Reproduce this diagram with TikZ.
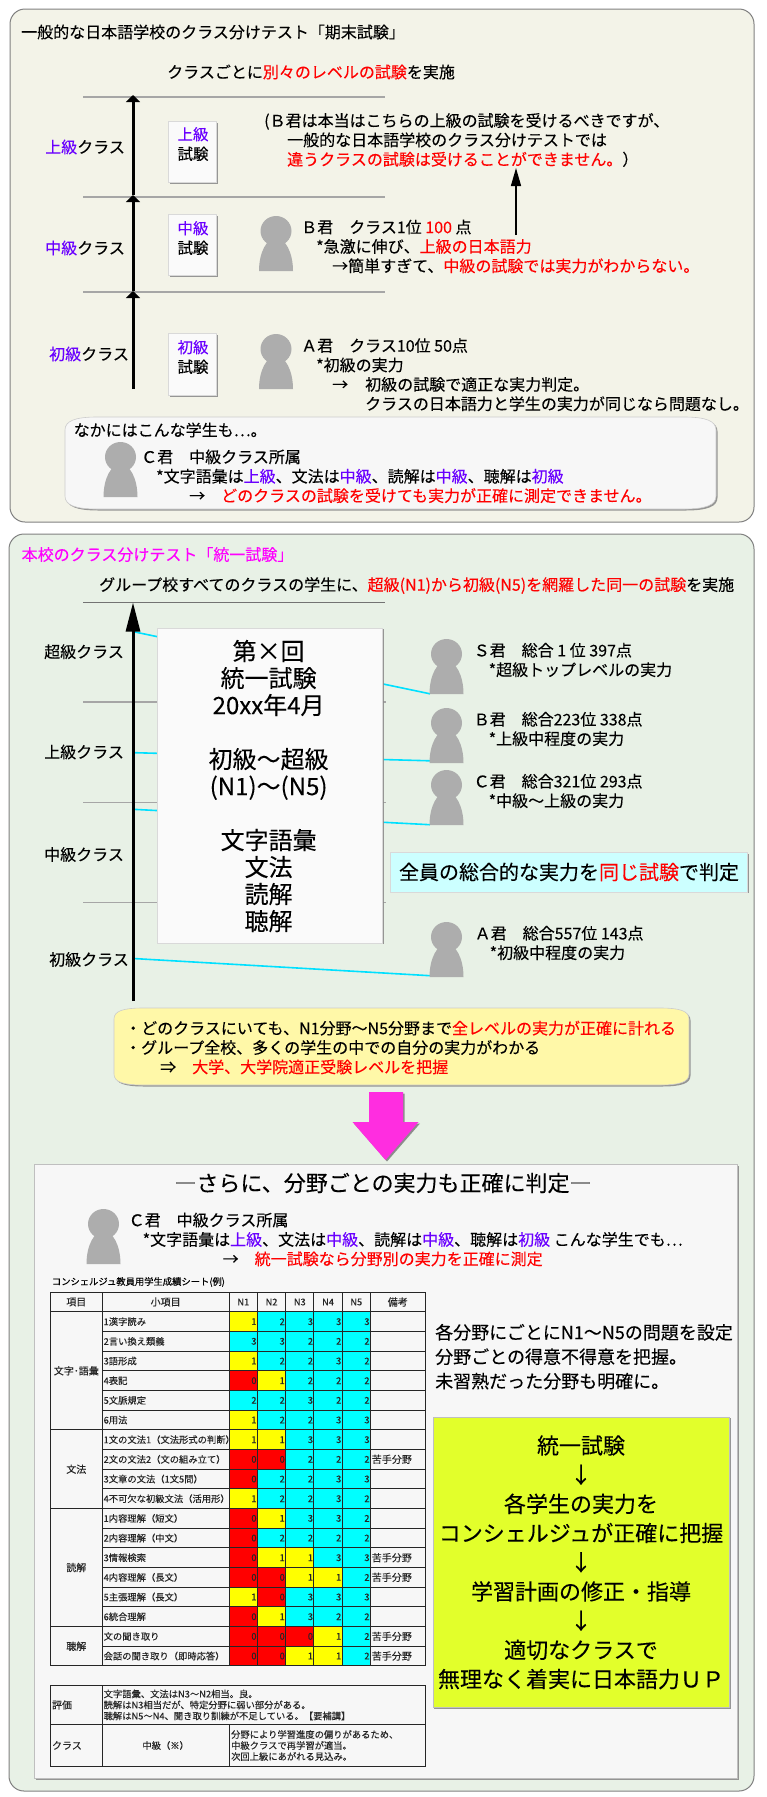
\documentclass[tikz,border=0pt]{standalone}
\usepackage{fontspec}
\setmainfont{Noto Sans CJK JP}[FakeBold=0.12]
\usetikzlibrary{arrows.meta}
\usetikzlibrary{shadows}

\definecolor{panelA}{HTML}{F3F3E8}
\definecolor{panelB}{HTML}{E8F1E6}
\definecolor{lvpurple}{HTML}{6A00FF}
\definecolor{hlred}{HTML}{FF0000}
\definecolor{titlepink}{HTML}{FF00FF}
\definecolor{cablecol}{HTML}{00E0FF}
\definecolor{personcol}{HTML}{ADADAD}
\definecolor{scorered}{HTML}{FF0000}
\definecolor{scoreyel}{HTML}{FFFF00}
\definecolor{scorecya}{HTML}{00FFFF}
\definecolor{samecol}{HTML}{CCFFFF}
\definecolor{meritcol}{HTML}{FFF8A8}
\definecolor{flowcol}{HTML}{E2FF2B}
\definecolor{arrowpink}{HTML}{FF2DE0}

\newcommand{\hl}[1]{\textcolor{hlred}{#1}}
\newcommand{\lv}[1]{\textcolor{lvpurple}{#1}}
\newcommand{\fs}[2]{\fontsize{#1}{#2}\selectfont}

\begin{document}
\begin{tikzpicture}[x=1pt,y=-1pt]
  \tikzset{panel/.style = {draw=black!50,line width=1pt,rounded corners=15pt}}
  \tikzset{shade/.style = {drop shadow={shadow xshift=1.5pt,shadow yshift=-1.5pt,fill=black!45,opacity=.9}}}
  \tikzset{txt/.style = {anchor=west,inner sep=0pt,align=left,font=\fs{16}{19.4}}}
  \tikzset{mid/.style = {anchor=center,inner sep=0pt,align=center,font=\fs{16}{19.4}}}
  \tikzset{rung/.style = {draw=black!35,line width=1.6pt}}
  \tikzset{climb/.style = {draw=black,line width=3pt,-{Triangle[length=7pt,width=14pt]}}}
  \tikzset{cable/.style = {draw=cablecol,line width=1.6pt}}
  \tikzset{exambox/.style = {anchor=north west,fill=black!2,draw=black!15,line width=.5pt,shade,minimum width=48pt,inner sep=0pt}}
  \tikzset{softbox/.style = {draw=black!20,line width=.6pt,shade}}
  \tikzset{cell/.style = {anchor=north west,draw=black!85,line width=.9pt,inner sep=0pt,minimum height=19.67pt,font=\fs{9.3}{11},text=black!85}}
  \tikzset{score0/.style = {fill=scorered}}
  \tikzset{score1/.style = {fill=scoreyel}}
  \tikzset{score2/.style = {fill=scorecya}}
  \tikzset{score3/.style = {fill=scorecya}}
  \tikzset{person/.pic = {
    \fill[personcol] (0,15) ellipse [x radius=15.5,y radius=15];
    \fill[personcol] (-17,55) .. controls (-17,36) and (-9,22) .. (0,22) .. controls (9,22) and (17,36) .. (17,55) -- cycle;
  }}

  \useasboundingbox (0,0) rectangle (767,1797);

  % upper panel
  \draw[panel,fill=panelA] (10,9) rectangle (754,522);
  \node[txt] (titleA) at (21,32) {一般的な日本語学校のクラス分けテスト「期末試験」};
  \node[txt] (leadA) at (167,72) {クラスごとに\hl{別々のレベルの試験}を実施};

  \coordinate (lv0) at (133,389);
  \coordinate (lv1) at (133,291);
  \coordinate (lv2) at (133,195);
  \coordinate (lv3) at (133,95);
  \foreach \yy in {97,197,292}
    \draw[rung] (83,\yy) -- (385,\yy);
  \foreach \from/\to in {lv0/lv1, lv1/lv2, lv2/lv3}
    \draw[climb] (\from) -- (\to);

  \node[txt] (classJo) at (45,147) {\lv{上級}クラス};
  \node[txt] (classCh) at (45,248) {\lv{中級}クラス};
  \node[txt] (classSh) at (49,354) {\lv{初級}クラス};

  \node[exambox,minimum height=61pt] (boxJo) at (168,121) {};
  \node[exambox,minimum height=61pt] (boxCh) at (168,214) {};
  \node[exambox,minimum height=62pt] (boxSh) at (168,333) {};
  \node[mid,font=\fs{15.5}{19.6}] (examJo) at (193,144) {\lv{上級}\\試験};
  \node[mid,font=\fs{15.5}{19.6}] (examCh) at (193,238) {\lv{中級}\\試験};
  \node[mid,font=\fs{15.5}{19.6}] (examSh) at (193,357) {\lv{初級}\\試験};

  \node[txt] (noteB) at (264,140) {(Ｂ君は本当はこちらの上級の試験を受けるべきですが、\\
    \hspace*{23pt}一般的な日本語学校のクラス分けテストでは\\
    \hspace*{23pt}\hl{違うクラスの試験は受けることができません。}）};
  \coordinate (upB) at (516,235);
  \coordinate (upNote) at (516,168);
  \draw[draw=black,line width=1.4pt,-{Triangle[length=18pt,width=10pt]}] (upB) -- (upNote);

  \pic at (276,216) {person};
  \node[txt] (studentB) at (301,246.5) {Ｂ君　クラス1位 \hl{100} 点\\
    \hspace*{15pt}*急激に伸び、\hl{上級の日本語力}\\
    \hspace*{31pt}→簡単すぎて、\hl{中級の試験では実力がわからない。}};
  \pic at (276,334) {person};
  \node[txt] (studentA) at (301,374.7) {Ａ君　クラス10位 50点\\
    \hspace*{15pt}*初級の実力\\
    \hspace*{31pt}→\hspace*{17pt}初級の試験で適正な実力判定。\\
    \hspace*{64pt}クラスの日本語力と学生の実力が同じなら問題なし。};

  \path[softbox,fill=black!3] (65,430) .. controls (65,421) and (75,417) .. (97,417) -- (684,417)
    .. controls (706,417) and (716,421) .. (716,430) -- (716,496)
    .. controls (716,505) and (706,509) .. (684,509) -- (97,509)
    .. controls (75,509) and (65,505) .. (65,496) -- cycle;
  \node[txt] (rareNote) at (73.5,430) {なかにはこんな学生も⋯。};
  \pic at (120.5,442) {person};
  \node[txt] (studentC) at (141,476.3) {Ｃ君　中級クラス所属\\
    \hspace*{15pt}*文字語彙は\lv{上級}、文法は\lv{中級}、読解は\lv{中級}、聴解は\lv{初級}\\
    \hspace*{48pt}→\hspace*{16pt}\hl{どのクラスの試験を受けても実力が正確に測定できません。}};

  % lower panel
  \draw[panel,fill=panelB] (9,534) rectangle (754,1791);
  \node[txt,text=titlepink] (titleB) at (21.5,554.5) {本校のクラス分けテスト「統一試験」};
  \node[txt] (leadB) at (99,585.5) {グループ校すべてのクラスの学生に、\hl{超級(N1)から初級(N5)を網羅した同一の試験}を実施};

  \draw[rung,draw=black!55,line width=1pt] (83,602.5) -- (385,602.5);
  \foreach \yy in {702,802.5,902.5}
    \draw[rung] (83,\yy) -- (386,\yy);

  \coordinate (fromS) at (135,632);
  \coordinate (fromB) at (135,752.7);
  \coordinate (fromC) at (135,809.4);
  \coordinate (fromA) at (135,958.6);
  \coordinate (toS) at (430,693.8);
  \coordinate (toB) at (430,760.8);
  \coordinate (toC) at (430,824.7);
  \coordinate (toA) at (432,975.8);
  \foreach \from/\to in {fromS/toS, fromB/toB, fromC/toC, fromA/toA}
    \draw[cable] (\from) -- (\to);

  \coordinate (axisLow) at (133,1001);
  \coordinate (axisTop) at (133,602.5);
  \draw[draw=black,line width=3pt,-{Triangle[length=29pt,width=14pt]}] (axisLow) -- (axisTop);

  \node[anchor=north west,inner sep=0pt,fill=black!2,draw=black!15,line width=.5pt,shade,minimum width=225pt,minimum height=315pt] (examAll) at (157,627.5) {};
  \node[mid,font=\fs{24}{27}] (examText) at (268.6,786) {第×回\\統一試験\\20xx年4月\\[27pt]初級～超級\\(N1)～(N5)\\[27pt]文字語彙\\文法\\読解\\聴解};

  \node[txt] (classTop) at (44,651.7) {超級クラス};
  \node[txt] (classJoB) at (44,752) {上級クラス};
  \node[txt] (classChB) at (44,854.5) {中級クラス};
  \node[txt] (classShB) at (49,959.4) {初級クラス};

  \pic at (446.5,639) {person};
  \pic at (446.5,708) {person};
  \pic at (446.5,770) {person};
  \pic at (446.5,922) {person};
  \node[txt] (rankS) at (473.5,660) {Ｓ君　総合 1 位 397点\\\hspace*{15pt}*超級トップレベルの実力};
  \node[txt] (rankB) at (473.5,729) {Ｂ君　総合223位 338点\\\hspace*{15pt}*上級中程度の実力};
  \node[txt] (rankC) at (473.5,791) {Ｃ君　総合321位 293点\\\hspace*{15pt}*中級～上級の実力};
  \node[txt] (rankA) at (474.5,943) {Ａ君　総合557位 143点\\\hspace*{15pt}*初級中程度の実力};

  \node[anchor=center,inner sep=0pt,fill=samecol,draw=black!15,line width=.5pt,shade,minimum width=357pt,minimum height=39.5pt,font=\fs{20}{24}] (sameTest) at (569,872) {全員の総合的な実力を\hl{同じ試験}で判定};

  \path[softbox,fill=meritcol] (114,1019) .. controls (114,1011) and (123,1008) .. (143,1008) -- (660,1008)
    .. controls (680,1008) and (689,1011) .. (689,1019) -- (689,1074)
    .. controls (689,1082) and (680,1085) .. (660,1085) -- (143,1085)
    .. controls (123,1085) and (114,1082) .. (114,1074) -- cycle;
  \node[txt] (meritText) at (125,1047.5) {・どのクラスにいても、N1分野～N5分野まで\hl{全レベルの実力が正確に計れる}\\
    ・グループ全校、多くの学生の中での自分の実力がわかる\\
    \hspace*{35pt}⇒\hspace*{16pt}\hl{大学、大学院適正受験レベルを把握}};

  \fill[fill=black!45] (370.5,1093.5) -- (404.5,1093.5) -- (404.5,1123.5) -- (420,1123.5) -- (387,1161.5) -- (354,1123.5) -- (370.5,1123.5) -- cycle;
  \fill[fill=arrowpink] (369,1092) -- (403,1092) -- (403,1122) -- (418.5,1122) -- (385.5,1160) -- (352.5,1122) -- (369,1122) -- cycle;

  % sheet panel
  \draw[fill=black!3,draw=black!25,line width=.6pt,shade] (34,1164) rectangle (737,1778);
  \node[mid,font=\fs{22}{26}] (sheetTitle) at (383,1183) {―さらに、分野ごとの実力も正確に判定―};
  \pic at (103.5,1209) {person};
  \node[txt] (studentCC) at (128.5,1239.5) {Ｃ君　中級クラス所属\\
    \hspace*{14pt}*文字語彙は\lv{上級}、文法は\lv{中級}、読解は\lv{中級}、聴解は\lv{初級} こんな学生でも⋯\\
    \hspace*{94pt}→\hspace*{16pt}\hl{統一試験なら分野別の実力を正確に測定}};

  \node[txt,font=\fs{9.3}{11}] (sheetCap) at (51.7,1282) {コンシェルジュ教員用学生成績シート(例)};

  % table head
  \node[cell,minimum width=51.7pt,font=\fs{10}{11}] (headItem) at (50,1291.7) {項目};
  \node[cell,minimum width=127pt,font=\fs{10}{11}] (headSub) at (101.7,1291.7) {小項目};
  \foreach \cl in {1,...,5}
    \node[cell,minimum width=28.25pt] (headN\cl) at ({228.7+28.25*(\cl-1)},1291.7) {N\cl};
  \node[cell,minimum width=54.7pt,font=\fs{10}{11}] (headMemo) at (370,1291.7) {備考};

  % table body
  \foreach \sub/\vals/\memo [count=\rw] in {
    1漢字読み/{1,2,3,3,3}/{},
    2言い換え類義/{3,3,2,2,2}/{},
    3語形成/{1,2,2,3,2}/{},
    4表記/{0,1,2,2,2}/{},
    5文脈規定/{2,2,3,2,2}/{},
    6用法/{1,2,2,3,3}/{},
    1文の文法1（文法形式の判断）/{1,1,3,3,3}/{},
    2文の文法2（文の組み立て）/{0,0,2,2,2}/苦手分野,
    3文章の文法（1文5問）/{0,2,2,3,3}/{},
    4不可欠な初級文法（活用形）/{1,2,2,3,2}/{},
    1内容理解（短文）/{0,1,3,3,2}/{},
    2内容理解（中文）/{0,2,2,2,2}/{},
    3情報検索/{0,1,1,3,3}/苦手分野,
    4内容理解（長文）/{0,0,1,1,2}/苦手分野,
    5主張理解（長文）/{1,0,3,3,3}/{},
    6統合理解/{0,1,3,2,2}/{},
    文の聞き取り/{0,0,0,1,2}/苦手分野,
    会話の聞き取り（即時応答）/{0,0,1,1,2}/苦手分野} {
    \node[cell,minimum width=127pt,text width=124pt,align=left] (sub\rw) at (101.7,{1291.7+19.67*\rw}) {\sub};
    \foreach \v [count=\cl] in \vals
      \node[cell,score\v,minimum width=28.25pt,text width=26.5pt,align=right] (c\rw-\cl) at ({228.7+28.25*(\cl-1)},{1291.7+19.67*\rw}) {\v};
    \node[cell,minimum width=54.7pt,text width=52pt,align=left,font=\fs{10}{11}] (memo\rw) at (370,{1291.7+19.67*\rw}) {\memo};
  }
  \foreach \name/\first/\len [count=\i] in {文字･語彙/1/6, 文法/7/4, 読解/11/6, 聴解/17/2}
    \node[cell,minimum width=51.7pt,minimum height={19.67pt*\len},font=\fs{10}{11}] (area\i) at (50,{1291.7+19.67*\first}) {\name};

  % verdict table
  \node[cell,minimum width=51.7pt,minimum height=38.4pt,text width=48.5pt,align=left,font=\fs{10}{11}] (evalHead) at (50,1685.3) {評価};
  \node[cell,minimum width=323pt,minimum height=38.4pt,text width=320pt,align=left] (evalText) at (101.7,1685.3) {文字語彙、文法はN3～N2相当。良。\\読解はN3相当だが、特定分野に弱い部分がある。\\聴解はN5～N4、聞き取り訓練が不足している。【要補講】};
  \node[cell,minimum width=51.7pt,minimum height=42.6pt,text width=48.5pt,align=left,font=\fs{10}{11}] (classHead) at (50,1723.7) {クラス};
  \node[cell,minimum width=127pt,minimum height=42.6pt] (classText) at (101.7,1723.7) {中級（※）};
  \node[cell,minimum width=196pt,minimum height=42.6pt,text width=192pt,align=left] (classNote) at (228.7,1723.7) {分野により学習進度の偏りがあるため、\\中級クラスで再学習が適当。\\次回上級にあがれる見込み。};

  \node[txt,font=\fs{18}{24.4}] (fieldNote) at (435,1356.7) {各分野にごとにN1～N5の問題を設定\\分野ごとの得意不得意を把握。\\未習熟だった分野も明確に。};

  \node[anchor=north west,inner sep=0pt,fill=flowcol,draw=black!25,line width=.5pt,shade,minimum width=296.6pt,minimum height=290.6pt] (flowBox) at (432.7,1416.7) {};
  \node[mid,font=\fs{22}{29.2}] (flowText) at (581,1562.3) {統一試験\\↓\\各学生の実力を\\コンシェルジュが正確に把握\\↓\\学習計画の修正・指導\\↓\\適切なクラスで\\無理なく着実に日本語力ＵＰ};
\end{tikzpicture}
\end{document}
